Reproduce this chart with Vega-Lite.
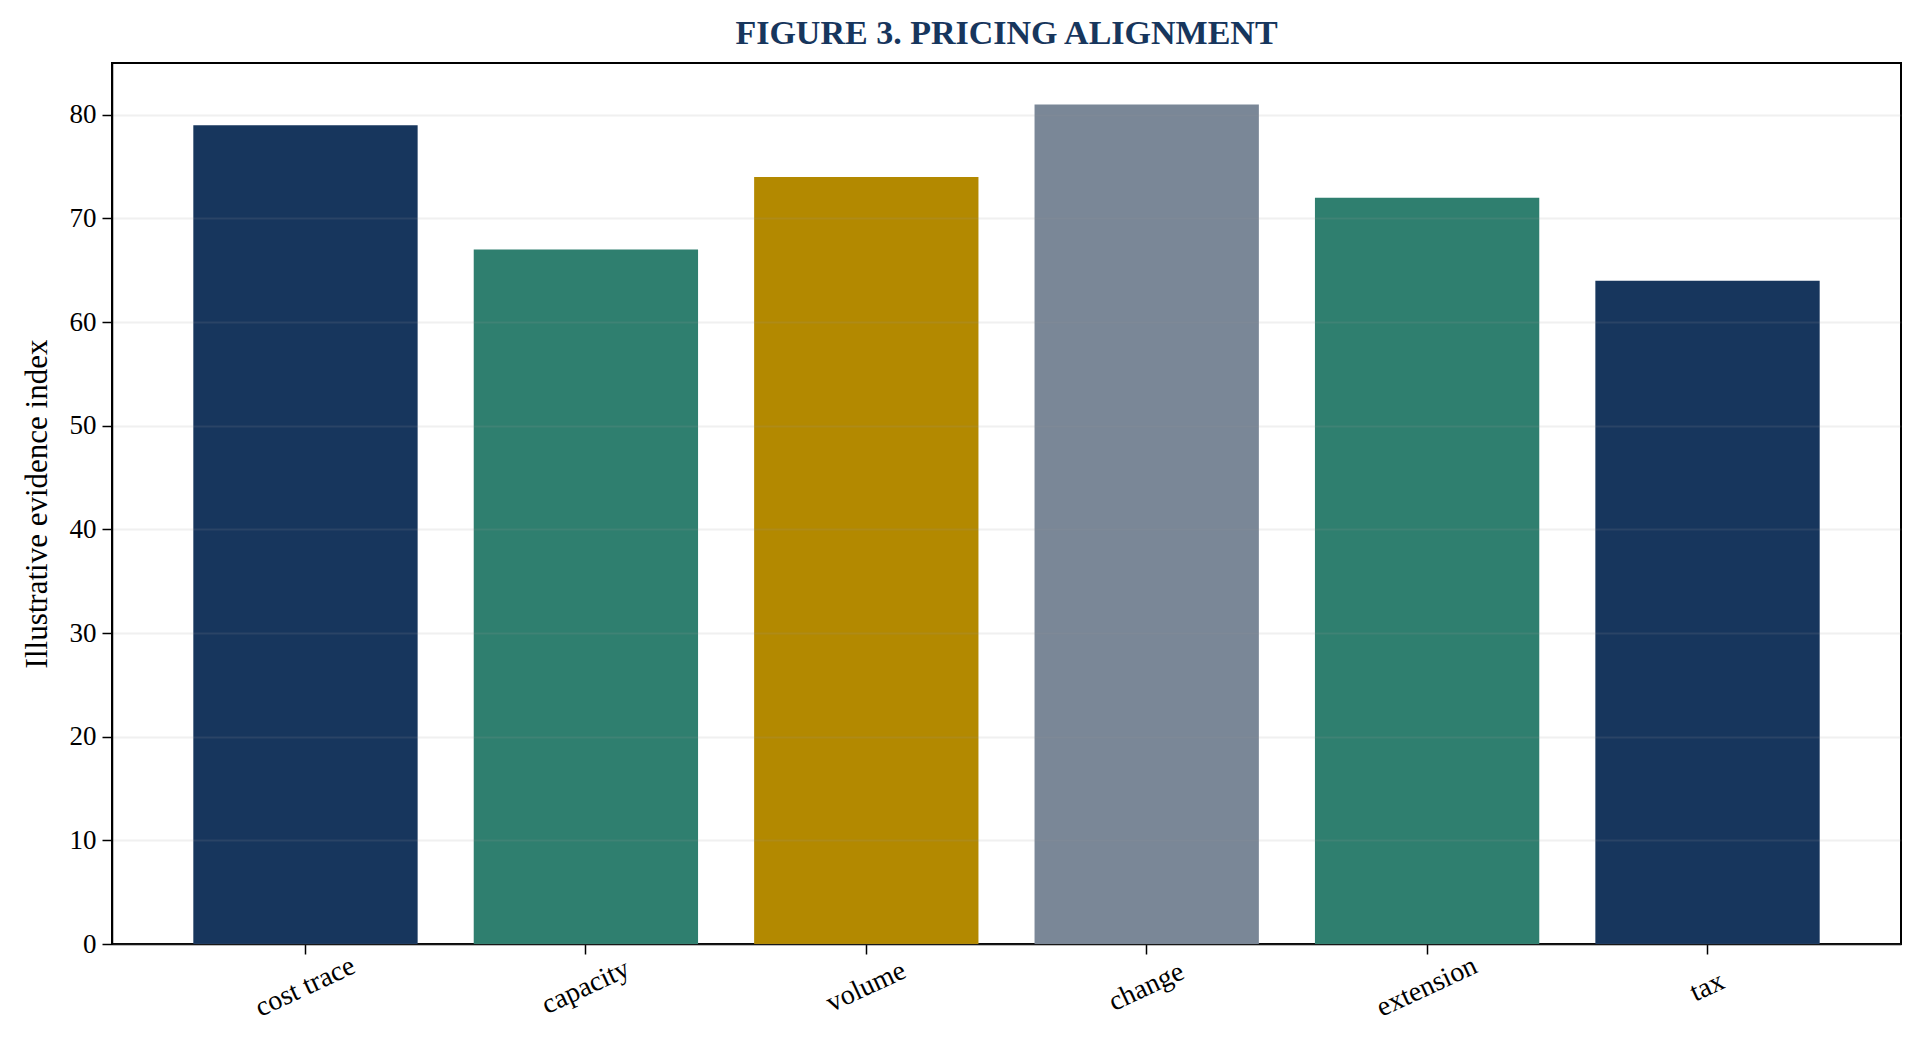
{
  "$schema": "https://vega.github.io/schema/vega-lite/v6.json",
  "autosize": {"type": "none"},
  "width": 1789,
  "height": 881,
  "padding": {"left": 112, "top": 63, "right": 23, "bottom": 107},
  "background": "white",
  "title": {
    "text": "FIGURE 3. PRICING ALIGNMENT",
    "anchor": "middle",
    "font": "Liberation Serif",
    "fontSize": 34,
    "fontWeight": "bold",
    "color": "#17365d",
    "offset": 12
  },
  "data": {
    "values": [
      {"driver": "cost trace", "index": 79, "group": "a"},
      {"driver": "capacity", "index": 67, "group": "b"},
      {"driver": "volume", "index": 74, "group": "c"},
      {"driver": "change", "index": 81, "group": "d"},
      {"driver": "extension", "index": 72, "group": "b"},
      {"driver": "tax", "index": 64, "group": "a"}
    ]
  },
  "mark": {"type": "bar"},
  "encoding": {
    "x": {
      "field": "driver",
      "type": "nominal",
      "sort": null,
      "title": null,
      "scale": {"paddingInner": 0.2, "paddingOuter": 0.29},
      "axis": {
        "labelAngle": -25,
        "labelAlign": "center",
        "labelBaseline": "top",
        "labelFont": "Liberation Serif",
        "labelFontSize": 28,
        "labelColor": "black",
        "labelPadding": 20,
        "labelOffset": -6,
        "tickColor": "black",
        "tickSize": 10,
        "tickWidth": 1.5,
        "domainColor": "black",
        "domainWidth": 1.5,
        "grid": false
      }
    },
    "y": {
      "field": "index",
      "type": "quantitative",
      "title": "Illustrative evidence index",
      "scale": {"domain": [0, 85], "nice": false},
      "axis": {
        "values": [0, 10, 20, 30, 40, 50, 60, 70, 80],
        "zindex": 1,
        "labelFont": "Liberation Serif",
        "labelFontSize": 27,
        "labelColor": "black",
        "labelPadding": 6,
        "tickColor": "black",
        "tickSize": 10,
        "tickWidth": 1.5,
        "domainColor": "black",
        "domainWidth": 1.5,
        "grid": true,
        "gridColor": "#999999",
        "gridOpacity": 0.15,
        "gridWidth": 2,
        "titleFont": "Liberation Serif",
        "titleFontSize": 31,
        "titleFontWeight": "normal",
        "titleColor": "black",
        "titlePadding": 16
      }
    },
    "color": {
      "field": "group",
      "type": "nominal",
      "scale": {
        "domain": ["a", "b", "c", "d"],
        "range": ["#17365d", "#2f7f6f", "#b38900", "#7a8797"]
      },
      "legend": null
    }
  },
  "config": {
    "view": {"stroke": "black", "strokeWidth": 2}
  }
}
